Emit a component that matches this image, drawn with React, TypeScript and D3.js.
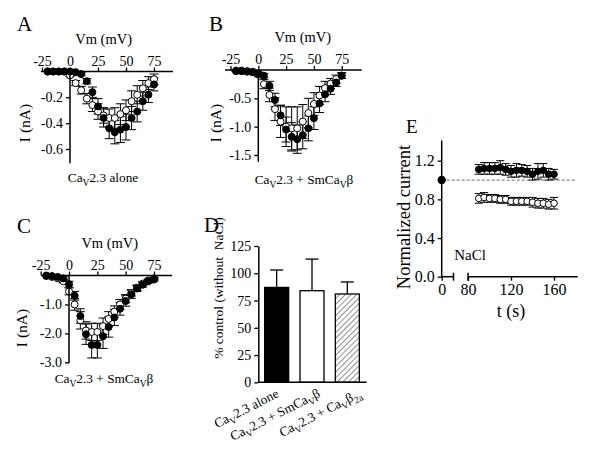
import { useEffect, useRef } from 'react';
import * as d3 from 'd3';

const FONT = "'Liberation Serif', 'Times New Roman', Times, serif";

// I-V curves (mV, nA)
const voltages = [-20, -15, -10, -5, 0, 5, 10, 15, 20, 25, 30, 35, 40, 45, 50, 55, 60, 65, 70, 75];
const ivXTicks = [-25, 0, 25, 50, 75];

const aOpen = [0, 0, 0, 0, -0.03, -0.09, -0.145, -0.21, -0.26, -0.31, -0.34, -0.36, -0.36, -0.33, -0.3, -0.23, -0.18, -0.13, -0.09, -0.06];
const aOpenErr = [0, 0, 0, 0, 0.01, 0.02, 0.03, 0.04, 0.05, 0.06, 0.06, 0.07, 0.08, 0.08, 0.08, 0.08, 0.07, 0.06, 0.05, 0.04];
const aFilled = [0, 0, 0, 0, 0, -0.005, -0.02, -0.075, -0.16, -0.27, -0.36, -0.44, -0.47, -0.45, -0.43, -0.36, -0.31, -0.23, -0.18, -0.1];
const aFilledErr = [0, 0, 0, 0, 0, 0.005, 0.01, 0.02, 0.04, 0.06, 0.07, 0.08, 0.09, 0.1, 0.1, 0.09, 0.08, 0.07, 0.06, 0.05];
const aYTicks = [-0.2, -0.4, -0.6];

const bOpen = [-0.01, -0.01, -0.02, -0.03, -0.08, -0.25, -0.44, -0.69, -0.91, -1.0, -1.03, -1.03, -0.91, -0.76, -0.6, -0.45, -0.32, -0.24, -0.16, -0.1];
const bOpenErr = [0.01, 0.01, 0.01, 0.02, 0.04, 0.08, 0.12, 0.2, 0.28, 0.35, 0.38, 0.38, 0.3, 0.26, 0.2, 0.16, 0.12, 0.09, 0.07, 0.05];
const bFilled = [-0.02, -0.02, -0.03, -0.04, -0.06, -0.1, -0.28, -0.53, -0.8, -1.05, -1.18, -1.22, -1.15, -1.03, -0.85, -0.59, -0.43, -0.33, -0.22, -0.1];
const bFilledErr = [0.01, 0.01, 0.01, 0.02, 0.02, 0.04, 0.08, 0.12, 0.18, 0.22, 0.25, 0.25, 0.24, 0.22, 0.2, 0.16, 0.13, 0.1, 0.07, 0.05];
const bYTicks = [-0.5, -1.0, -1.5];

const cOpen = [-0.02, -0.05, -0.1, -0.2, -0.55, -1.0, -1.55, -1.9, -1.95, -1.95, -1.75, -1.5, -1.25, -1.0, -0.8, -0.6, -0.42, -0.28, -0.17, -0.1];
const cOpenErr = [0.01, 0.02, 0.03, 0.05, 0.12, 0.2, 0.3, 0.3, 0.3, 0.3, 0.28, 0.25, 0.2, 0.17, 0.14, 0.11, 0.09, 0.07, 0.05, 0.04];
const cFilled = [0, -0.02, -0.05, -0.1, -0.3, -0.7, -1.4, -2.03, -2.4, -2.4, -2.1, -1.78, -1.45, -1.15, -0.88, -0.65, -0.45, -0.32, -0.2, -0.14];
const cFilledErr = [0.01, 0.02, 0.03, 0.05, 0.1, 0.15, 0.25, 0.35, 0.45, 0.45, 0.42, 0.35, 0.28, 0.22, 0.18, 0.14, 0.1, 0.08, 0.06, 0.05];
const cYTicks = [-1.0, -2.0, -3.0];

// bar chart (% control)
const barKeys = ['alone', 'smcavb', 'cavb2a'];
const barValues = [87, 84, 81];
const barErrors = [16, 29, 11];
const barYTicks = [0, 25, 50, 75, 100, 125];

// time course (normalized current)
const timePoints = [90, 95, 100, 105, 110, 115, 120, 125, 130, 135, 140, 145, 150, 155, 160];
const eFilled = [1.11, 1.12, 1.12, 1.12, 1.13, 1.11, 1.09, 1.1, 1.1, 1.09, 1.06, 1.09, 1.1, 1.06, 1.06];
const eFilledErr = [0.05, 0.06, 0.06, 0.06, 0.07, 0.06, 0.06, 0.07, 0.06, 0.06, 0.06, 0.08, 0.07, 0.06, 0.05];
const eOpen = [0.81, 0.82, 0.81, 0.81, 0.8, 0.8, 0.78, 0.78, 0.78, 0.78, 0.77, 0.76, 0.76, 0.75, 0.76];
const eOpenErr = [0.05, 0.05, 0.04, 0.04, 0.04, 0.04, 0.04, 0.04, 0.04, 0.04, 0.05, 0.05, 0.05, 0.05, 0.06];
const eStart = 1.0;
const eYTicks = [0, 0.4, 0.8, 1.2];
const eXTicks = [80, 120, 160];

type Part = [string, boolean?];
const labelAlone: Part[] = [['Ca'], ['V', true], ['2.3 alone']];
const labelSm: Part[] = [['Ca'], ['V', true], ['2.3 + SmCa'], ['V', true], ['β']];
const labelB2a: Part[] = [['Ca'], ['V', true], ['2.3 + Ca'], ['V', true], ['β'], ['2a', true]];
const barLabels = [labelAlone, labelSm, labelB2a];

const FS_TICK = 14;
const FS_LABEL = 14.5;
const FS_LETTER = 21;
const FS_CAPTION = 13.3;

function richText(sel: any, parts: Part[], size: number) {
  let down = false;
  const shift = size * 0.28;
  parts.forEach(([s, sub]) => {
    const t = sel.append('tspan').text(s);
    if (sub && !down) { t.attr('dy', shift).attr('font-size', size * 0.72); down = true; }
    else if (sub) { t.attr('font-size', size * 0.72); }
    else if (down) { t.attr('dy', -shift); down = false; }
  });
}

function styleAxis(g: any, size: number) {
  g.attr('font-family', FONT).attr('font-size', size);
  g.selectAll('line').attr('stroke', '#000').attr('stroke-width', 1.3);
  g.selectAll('text').attr('fill', '#000');
}

function drawErr(g: any, xs: number[], ys: number[], errs: number[], y: any, cap: number) {
  xs.forEach((cx, i) => {
    if (errs[i] <= 0) return;
    const y1 = y(ys[i] - errs[i]);
    const y2 = y(ys[i] + errs[i]);
    g.append('line').attr('x1', cx).attr('x2', cx).attr('y1', y1).attr('y2', y2);
    g.append('line').attr('x1', cx - cap / 2).attr('x2', cx + cap / 2).attr('y1', y1).attr('y2', y1);
    g.append('line').attr('x1', cx - cap / 2).attr('x2', cx + cap / 2).attr('y1', y2).attr('y2', y2);
  });
  g.attr('stroke', '#000').attr('stroke-width', 1);
}

function drawDots(g: any, xs: number[], ys: number[], y: any, filled: boolean, r: number) {
  g.selectAll('circle')
    .data(xs)
    .join('circle')
    .attr('cx', (d: number) => d)
    .attr('cy', (_: number, i: number) => y(ys[i]))
    .attr('r', r)
    .attr('fill', filled ? '#000' : '#fff')
    .attr('stroke', '#000')
    .attr('stroke-width', 1);
}

interface IVCfg {
  x0: number; x75: number; axisY: number; yBottomVal: number; yTickRef: number; yTickPx: number;
  xMin: number; xMax: number; yTicks: number[]; fmt: (d: number) => string; vmAt: number;
  open: number[]; openErr: number[]; filled: number[]; filledErr: number[];
  letter: string; letterX: number; letterY: number; yLabelX: number; yLabelY: number;
  label: Part[]; labelX: number; labelY: number;
}

function drawIV(svg: any, c: IVCfg) {
  const x = d3.scaleLinear().domain([0, 75]).range([c.x0, c.x75]);
  const y = d3.scaleLinear().domain([0, c.yTickRef]).range([c.axisY, c.yTickPx]);
  const g = svg.append('g');

  const xs = voltages.map((v) => x(v));
  drawErr(g.append('g'), xs, c.open, c.openErr, y, 9);
  drawErr(g.append('g'), xs, c.filled, c.filledErr, y, 9);
  drawDots(g.append('g'), xs, c.open, y, false, 3.5);
  drawDots(g.append('g'), xs, c.filled, y, true, 3.5);

  const xa = g.append('g').attr('transform', `translate(0,${c.axisY})`)
    .call(d3.axisTop(x).tickValues(ivXTicks).tickSize(4).tickSizeOuter(0).tickPadding(2).tickFormat((d: any) => String(d)));
  xa.select('.domain').remove();
  styleAxis(xa, FS_TICK);
  g.append('line').attr('x1', x(c.xMin)).attr('x2', x(c.xMax)).attr('y1', c.axisY).attr('y2', c.axisY)
    .attr('stroke', '#000').attr('stroke-width', 1.5);

  const ya = g.append('g').attr('transform', `translate(${c.x0},0)`)
    .call(d3.axisLeft(y).tickValues(c.yTicks).tickSize(4).tickSizeOuter(0).tickPadding(3).tickFormat((d: any) => c.fmt(d)));
  ya.select('.domain').remove();
  styleAxis(ya, FS_TICK);
  g.append('line').attr('x1', c.x0).attr('x2', c.x0).attr('y1', c.axisY).attr('y2', y(c.yBottomVal))
    .attr('stroke', '#000').attr('stroke-width', 1.5);

  g.append('text').attr('x', x(c.vmAt)).attr('y', c.axisY - 28).attr('text-anchor', 'middle')
    .attr('font-family', FONT).attr('font-size', FS_LABEL).text('Vm (mV)');
  g.append('text').attr('transform', `translate(${c.yLabelX},${c.yLabelY}) rotate(-90)`).attr('text-anchor', 'middle')
    .attr('font-family', FONT).attr('font-size', FS_LABEL + 1).text('I (nA)');
  g.append('text').attr('x', c.letterX).attr('y', c.letterY).attr('font-family', FONT).attr('font-size', FS_LETTER).text(c.letter);
  const lab = g.append('text').attr('x', c.labelX).attr('y', c.labelY).attr('text-anchor', 'middle')
    .attr('font-family', FONT).attr('font-size', FS_CAPTION);
  richText(lab, c.label, FS_CAPTION);
}

function drawBars(svg: any) {
  const g = svg.append('g');
  const x = d3.scaleBand().domain(barKeys).range([259, 365]).paddingInner(0.32).paddingOuter(0.16);
  const y = d3.scaleLinear().domain([0, 125]).range([382.3, 246]);

  const defs = svg.append('defs');
  const pat = defs.append('pattern').attr('id', 'hatch').attr('patternUnits', 'userSpaceOnUse')
    .attr('width', 4).attr('height', 4).attr('patternTransform', 'rotate(45)');
  pat.append('rect').attr('width', 4).attr('height', 4).attr('fill', '#fff');
  pat.append('line').attr('x1', 0).attr('x2', 0).attr('y1', 0).attr('y2', 4).attr('stroke', '#444').attr('stroke-width', 1.2);

  const fills = ['#000', '#fff', 'url(#hatch)'];
  const eg = g.append('g').attr('stroke', '#000').attr('stroke-width', 1.3);
  barKeys.forEach((k, i) => {
    const cx = (x(k) as number) + x.bandwidth() / 2;
    eg.append('line').attr('x1', cx).attr('x2', cx).attr('y1', y(barValues[i])).attr('y2', y(barValues[i] + barErrors[i]));
    eg.append('line').attr('x1', cx - 6.5).attr('x2', cx + 6.5).attr('y1', y(barValues[i] + barErrors[i])).attr('y2', y(barValues[i] + barErrors[i]));
  });
  g.append('g').selectAll('rect').data(barKeys).join('rect')
    .attr('x', (d) => x(d) as number).attr('width', x.bandwidth())
    .attr('y', (_, i) => y(barValues[i])).attr('height', (_, i) => y(0) - y(barValues[i]))
    .attr('fill', (_, i) => fills[i]).attr('stroke', '#000').attr('stroke-width', 1.3);

  const ya = g.append('g').attr('transform', 'translate(258.3,0)')
    .call(d3.axisLeft(y).tickValues(barYTicks).tickSize(4).tickSizeOuter(0).tickPadding(3).tickFormat((d: any) => String(d)));
  ya.select('.domain').attr('stroke', '#000').attr('stroke-width', 1.5);
  styleAxis(ya, FS_TICK);
  g.append('line').attr('x1', 258.3).attr('x2', 366.7).attr('y1', y(0)).attr('y2', y(0)).attr('stroke', '#000').attr('stroke-width', 1.5);

  g.append('text').attr('x', 204).attr('y', 232).attr('font-family', FONT).attr('font-size', FS_LETTER).text('D');
  g.append('text').attr('transform', 'translate(223,288) rotate(-90)').attr('text-anchor', 'middle')
    .attr('font-family', FONT).attr('font-size', 13.5).style('white-space', 'pre').text('% control (without  NaCl)');

  barKeys.forEach((k, i) => {
    const cx = (x(k) as number) + x.bandwidth() / 2;
    const t = g.append('text').attr('transform', `translate(${cx + 3 + i * 6},${y(0) + 14}) rotate(-27)`)
      .attr('text-anchor', 'end').attr('font-family', FONT).attr('font-size', FS_CAPTION);
    richText(t, barLabels[i], FS_CAPTION);
  });
}

function drawTime(svg: any) {
  const g = svg.append('g');
  const y = d3.scaleLinear().domain([0, 1.2]).range([276.7, 160.7]);
  const x1 = d3.scaleLinear().domain([0, 11]).range([441.7, 453.5]);
  const x2 = d3.scaleLinear().domain([80, 182]).range([468, 577.7]);
  const y0 = y(0);

  g.append('line').attr('x1', x1(0)).attr('x2', x2(180)).attr('y1', y(1)).attr('y2', y(1))
    .attr('stroke', '#888').attr('stroke-width', 1.2).attr('stroke-dasharray', '3,2');

  const xs = timePoints.map((t) => x2(t));
  drawErr(g.append('g'), xs, eOpen, eOpenErr, y, 8);
  drawErr(g.append('g'), xs, eFilled, eFilledErr, y, 8);
  drawDots(g.append('g'), xs, eOpen, y, false, 3.3);
  drawDots(g.append('g'), xs, eFilled, y, true, 3.3);
  g.append('circle').attr('cx', x1(0)).attr('cy', y(eStart)).attr('r', 4.2).attr('fill', '#000');

  const ya = g.append('g').attr('transform', `translate(${x1(0)},0)`)
    .call(d3.axisLeft(y).tickValues(eYTicks).tickSize(4).tickSizeOuter(0).tickPadding(3).tickFormat((d: any) => (d as number).toFixed(1)));
  ya.select('.domain').remove();
  styleAxis(ya, 16);
  g.append('line').attr('x1', x1(0)).attr('x2', x1(0)).attr('y1', y0).attr('y2', y(1.41)).attr('stroke', '#000').attr('stroke-width', 1.5);

  const xa1 = g.append('g').attr('transform', `translate(0,${y0})`)
    .call(d3.axisBottom(x1).tickValues([0]).tickSize(4).tickSizeOuter(0).tickPadding(3).tickFormat((d: any) => String(d)));
  xa1.select('.domain').remove();
  styleAxis(xa1, 16);
  const xa2 = g.append('g').attr('transform', `translate(0,${y0})`)
    .call(d3.axisBottom(x2).tickValues(eXTicks).tickSize(4).tickSizeOuter(0).tickPadding(3).tickFormat((d: any) => String(d)));
  xa2.select('.domain').remove();
  styleAxis(xa2, 16);
  const ax = g.append('g').attr('stroke', '#000').attr('stroke-width', 1.5);
  ax.append('line').attr('x1', x1(0)).attr('x2', x1(11)).attr('y1', y0).attr('y2', y0);
  ax.append('line').attr('x1', x2(80)).attr('x2', x2(182)).attr('y1', y0).attr('y2', y0);
  ax.append('line').attr('x1', x1(11)).attr('x2', x1(11)).attr('y1', y0 - 4).attr('y2', y0 + 4);
  ax.append('line').attr('x1', x2(80)).attr('x2', x2(80)).attr('y1', y0 - 4).attr('y2', y0 + 4);

  g.append('text').attr('x', 470).attr('y', 260).attr('text-anchor', 'middle').attr('font-family', FONT).attr('font-size', 15).text('NaCl');
  g.append('text').attr('x', x2(120)).attr('y', 317).attr('text-anchor', 'middle').attr('font-family', FONT).attr('font-size', 18).text('t (s)');
  g.append('text').attr('transform', 'translate(410,217) rotate(-90)').attr('text-anchor', 'middle')
    .attr('font-family', FONT).attr('font-size', 18.5).text('Normalized current');
  g.append('text').attr('x', 406).attr('y', 133).attr('font-family', FONT).attr('font-size', 19).text('E');
}

function App() {
  const svgRef = useRef<SVGSVGElement>(null);

  useEffect(() => {
    const svg = d3.select(svgRef.current);
    svg.selectAll('*').remove();
    const fmt1 = (d: number) => d.toFixed(1);

    drawIV(svg, {
      x0: 70, x75: 154, axisY: 71.5, yBottomVal: -0.71, yTickRef: -0.6, yTickPx: 149,
      xMin: -26, xMax: 92, yTicks: aYTicks, fmt: fmt1, vmAt: 30,
      open: aOpen, openErr: aOpenErr, filled: aFilled, filledErr: aFilledErr,
      letter: 'A', letterX: 17, letterY: 31, yLabelX: 30, yLabelY: 123,
      label: labelAlone, labelX: 103, labelY: 182,
    });
    drawIV(svg, {
      x0: 258.3, x75: 341.7, axisY: 70, yBottomVal: -1.62, yTickRef: -1.5, yTickPx: 155,
      xMin: -30, xMax: 93, yTicks: bYTicks, fmt: fmt1, vmAt: 40,
      open: bOpen, openErr: bOpenErr, filled: bFilled, filledErr: bFilledErr,
      letter: 'B', letterX: 209, letterY: 31, yLabelX: 221, yLabelY: 123,
      label: labelSm, labelX: 304, labelY: 184,
    });
    drawIV(svg, {
      x0: 69, x75: 154, axisY: 275.5, yBottomVal: -3.03, yTickRef: -3.0, yTickPx: 362.3,
      xMin: -24, xMax: 91, yTicks: cYTicks, fmt: fmt1, vmAt: 36,
      open: cOpen, openErr: cOpenErr, filled: cFilled, filledErr: cFilledErr,
      letter: 'C', letterX: 17, letterY: 233, yLabelX: 27, yLabelY: 328,
      label: labelSm, labelX: 104, labelY: 383,
    });
    drawBars(svg);
    drawTime(svg);
  }, []);

  return (
    <svg ref={svgRef} width={600} height={464} viewBox='0 0 600 464'
      style={{ position: 'absolute', left: 0, top: 0, background: '#fff' }} />
  );
}

export default App;
